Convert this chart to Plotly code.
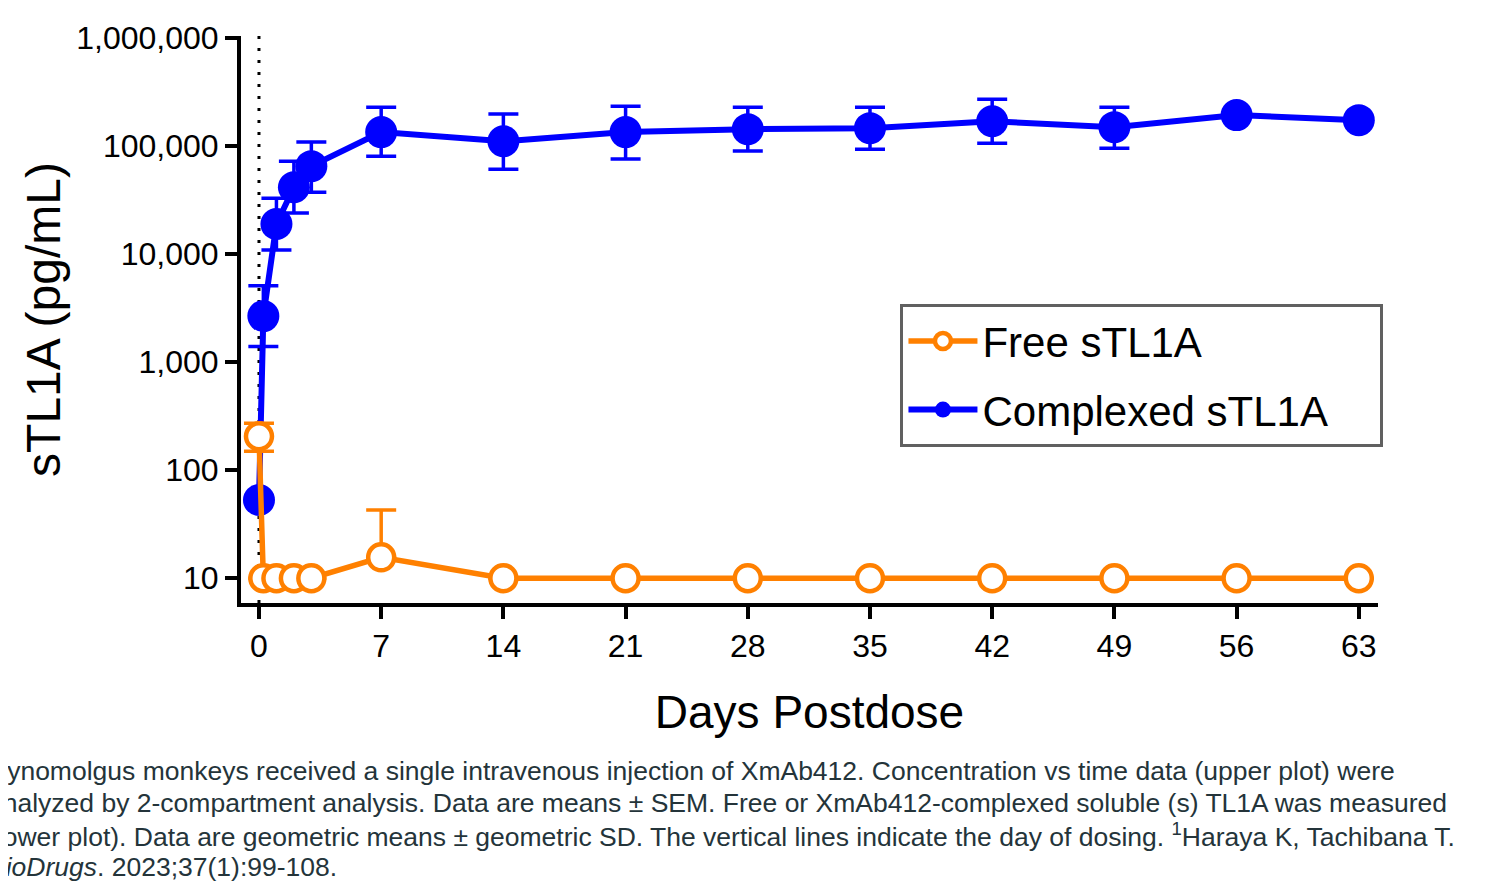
import plotly.graph_objects as go

# ---- data ----
days_complexed = [0, 0.25, 1, 2, 3, 7, 14, 21, 28, 35, 42, 49, 56, 63]
complexed = [53, 2670, 19000, 41700, 65300, 135000, 111000, 135000, 143700, 146800, 170000, 150000, 194000, 174000]
complexed_hi = [53, 5100, 33000, 72600, 109000, 229000, 198000, 234000, 229000, 229000, 272000, 229000, 194000, 174000]
complexed_lo = [53, 1400, 10900, 24000, 37500, 80700, 61200, 76000, 90000, 93800, 106600, 95800, 194000, 174000]

days_free = [0, 0.25, 1, 2, 3, 7, 14, 21, 28, 35, 42, 49, 56, 63]
free = [206, 10, 10, 10, 10, 15.6, 10, 10, 10, 10, 10, 10, 10, 10]
free_hi = [272, 10, 10, 10, 10, 42.7, 10, 10, 10, 10, 10, 10, 10, 10]
free_lo = [150, 10, 10, 10, 10, 15.6, 10, 10, 10, 10, 10, 10, 10, 10]

x_ticks = [0, 7, 14, 21, 28, 35, 42, 49, 56, 63]
y_ticks = [10, 100, 1000, 10000, 100000, 1000000]
y_ticktext = ["10", "100", "1,000", "10,000", "100,000", "1,000,000"]

caption_lines = [
    "Cynomolgus monkeys received a single intravenous injection of XmAb412. Concentration vs time data (upper plot) were",
    "analyzed by 2-compartment analysis. Data are means ± SEM. Free or XmAb412-complexed soluble (s) TL1A was measured",
    "(lower plot). Data are geometric means ± geometric SD. The vertical lines indicate the day of dosing. <sup>1</sup>Haraya K, Tachibana T.",
    "<i>BioDrugs</i>. 2023;37(1):99-108.",
]

BLUE = "#0000FF"
ORANGE = "#FF8000"
FONT = "Arial, Liberation Sans, sans-serif"
NB = "\u00a0"

W, H = 1488, 875
ML, MR, MT, MB = 233, 118, 28, 280
plot_h = H - MT - MB

fig = go.Figure()

fig.add_trace(go.Scatter(
    x=days_complexed, y=complexed, mode="lines+markers", name="Complexed sTL1A" + NB * 4,
    legendrank=2, legendgroup="c",
    line=dict(color=BLUE, width=6),
    marker=dict(color=BLUE, size=32, symbol="circle"),
    error_y=dict(type="data", symmetric=False,
                 array=[h - v for h, v in zip(complexed_hi, complexed)],
                 arrayminus=[v - l for v, l in zip(complexed, complexed_lo)],
                 color=BLUE, thickness=3.5, width=15),
))

fig.add_trace(go.Scatter(
    x=days_free, y=free, mode="lines+markers", name="Free sTL1A",
    legendrank=1, legendgroup="f",
    line=dict(color=ORANGE, width=5.5),
    marker=dict(color="white", size=26, symbol="circle", line=dict(color=ORANGE, width=4.5)),
    error_y=dict(type="data", symmetric=False,
                 array=[h - v for h, v in zip(free_hi, free)],
                 arrayminus=[v - l for v, l in zip(free, free_lo)],
                 color=ORANGE, thickness=3.5, width=15),
))

fig.add_shape(type="line", x0=0, x1=0, xref="x", yref="paper", y0=0, y1=1,
              line=dict(color="black", width=3, dash="3px,9px"), layer="below")

# caption lines, 32 px apart; first line centre at page y ~771 (figure y ~763)
for i, line in enumerate(caption_lines):
    yc = 763 + 32 * i
    fig.add_annotation(
        text=line, xref="paper", yref="paper",
        x=(-22 - ML) / (W - ML - MR), y=(H - MB - yc) / plot_h,
        xanchor="left", yanchor="middle", align="left",
        showarrow=False, font=dict(family=FONT, size=26.5, color="#24343a"),
    )

fig.update_layout(
    width=W, height=H,
    margin=dict(l=ML, r=MR, t=MT, b=MB),
    paper_bgcolor="white", plot_bgcolor="white",
    font=dict(family=FONT, color="black"),
    showlegend=True,
    legend=dict(
        x=0.580, y=0.527, xanchor="left", yanchor="top",
        bordercolor="#606060", borderwidth=3, bgcolor="white",
        font=dict(family=FONT, size=42, color="black"),
        itemwidth=69, tracegroupgap=11, traceorder="grouped",
    ),
    xaxis=dict(
        range=[-1.03, 64.1], tickvals=x_ticks, showgrid=False, zeroline=False,
        showline=True, linecolor="black", linewidth=4,
        ticks="outside", ticklen=12, tickwidth=4, tickcolor="black",
        tickfont=dict(family=FONT, size=32, color="black"),
        title=dict(text="Days Postdose", font=dict(family=FONT, size=46, color="black"), standoff=33),
    ),
    yaxis=dict(
        type="log", range=[0.77, 6.02], tickvals=y_ticks, ticktext=y_ticktext,
        showgrid=False, zeroline=False,
        showline=True, linecolor="black", linewidth=4,
        ticks="outside", ticklen=12, tickwidth=4, tickcolor="black",
        tickfont=dict(family=FONT, size=32, color="black"),
        title=dict(text="sTL1A (pg/mL)", font=dict(family=FONT, size=48, color="black"), standoff=1),
    ),
)

fig.write_html("out.html")
